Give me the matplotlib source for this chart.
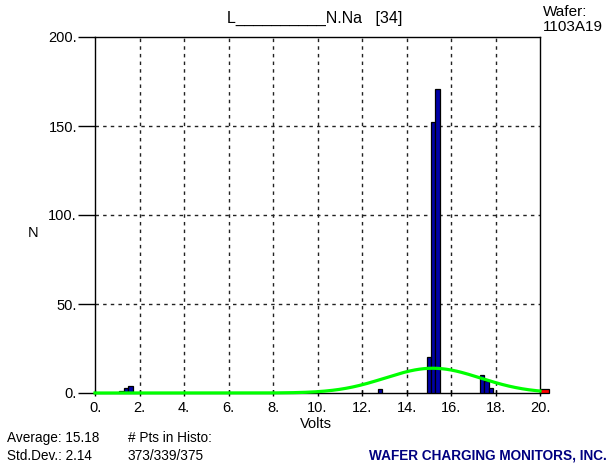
import numpy as np
import matplotlib.pyplot as plt

plt.rcParams['font.family'] = ['Liberation Sans', 'DejaVu Sans']

# histogram data (bin centers in volts, counts), bin width 0.2 V
bin_width = 0.2
centers = [1.2, 1.4, 1.6, 12.8, 15.0, 15.2, 15.4, 17.4, 17.6, 17.8]
counts = [1, 3, 4, 2, 20, 152, 171, 10, 7, 3]
overflow_left = 20.0
overflow_width = 0.4
overflow_count = 2

average = 15.18
std_dev = 2.14
n_histo = 373

x_ticks = [0, 2, 4, 6, 8, 10, 12, 14, 16, 18, 20]
y_ticks = [0, 50, 100, 150, 200]

fig = plt.figure(figsize=(6.15, 4.66), dpi=100)
ax = fig.add_axes([95 / 615, 73 / 466, 445 / 615, 356 / 466])

ax.bar(centers, counts, width=bin_width, color='#0000a8', edgecolor='black',
       linewidth=0.9, zorder=3)
ax.bar([overflow_left], [overflow_count], width=overflow_width, align='edge',
       color='#ff0000', edgecolor='black', linewidth=0.9, zorder=3, clip_on=False)

# fitted normal curve from the stated average / std dev
xs = np.linspace(0, 20, 400)
ys = n_histo * bin_width / (std_dev * np.sqrt(2 * np.pi)) * np.exp(-0.5 * ((xs - average) / std_dev) ** 2)
ax.plot(xs, ys, color='#00ff00', linewidth=2.3, zorder=4, clip_on=False)

ax.set_xlim(0, 20)
ax.set_ylim(0, 200)
ax.set_xticks(x_ticks)
ax.set_xticklabels([f'{t}.' for t in x_ticks])
ax.set_yticks(y_ticks)
ax.set_yticklabels([f'{t}.' for t in y_ticks])
ax.tick_params(axis='y', direction='out', length=12, width=1, pad=1, labelsize=10.5)
ax.tick_params(axis='x', direction='inout', length=4, width=1, pad=4, labelsize=10.5)
for t in [2, 4, 6, 8, 10, 12, 14, 16, 18]:
    ax.axvline(t, color='#222222', linestyle=(0, (2.5, 3)), linewidth=1, zorder=1)
for t in [50, 100, 150]:
    ax.axhline(t, color='#222222', linestyle=(0, (2.5, 3)), linewidth=1, zorder=1)
for s in ax.spines.values():
    s.set_linewidth(1)

fig.text(316 / 615, 1 - 424 / 466, 'Volts', ha='center', va='center', fontsize=10.5)
fig.text(33 / 615, 1 - 233 / 466, 'N', ha='center', va='center', fontsize=10.5)

fig.text(315 / 615, 1 - 18 / 466, 'L__________N.Na   [34]', ha='center', va='center', fontsize=11.5)
fig.text(543 / 615, 1 - 12 / 466, 'Wafer:', ha='left', va='center', fontsize=11)
fig.text(543 / 615, 1 - 27 / 466, '1103A19', ha='left', va='center', fontsize=11)

fig.text(7 / 615, 1 - 438 / 466, 'Average: 15.18', ha='left', va='center', fontsize=9.8)
fig.text(7 / 615, 1 - 456 / 466, 'Std.Dev.: 2.14', ha='left', va='center', fontsize=9.8)
fig.text(128 / 615, 1 - 438 / 466, '# Pts in Histo:', ha='left', va='center', fontsize=9.8)
fig.text(128 / 615, 1 - 456 / 466, '373/339/375', ha='left', va='center', fontsize=9.8)
fig.text(607 / 615, 1 - 456 / 466, 'WAFER CHARGING MONITORS, INC.', ha='right', va='center',
         fontsize=9.8, fontweight='bold', color='#000080')

fig.savefig('out.png', dpi=100)
